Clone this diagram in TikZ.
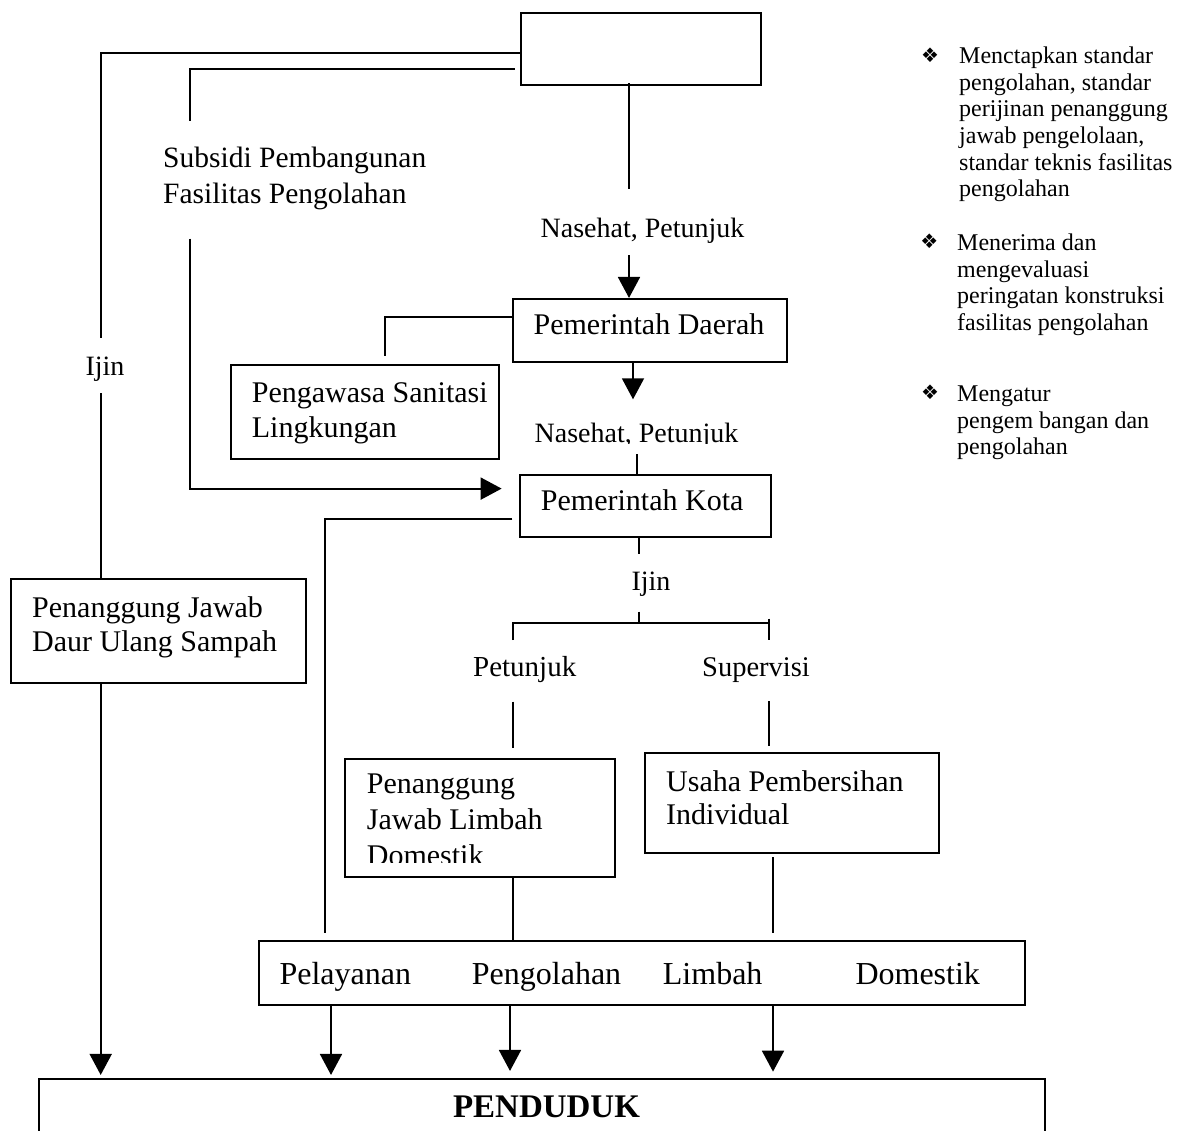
\documentclass[tikz,border=0pt]{standalone}
\usepackage{fontspec}
\setmainfont{Liberation Serif}
\newfontfamily\symfont{DejaVu Sans}
\usetikzlibrary{arrows.meta}
\begin{document}
\begin{tikzpicture}[x=1pt,y=-1pt,
  box/.style={draw, line width=2.1pt, inner sep=0pt},
  conn/.style={line width=1.8pt},
  arr/.style={conn, -{Triangle[length=21pt,width=22pt]}},
  txt/.style={inner sep=0pt, font=\fontsize{30}{34.5}\selectfont},
  txtl/.style={txt, align=left, anchor=north west},
  side/.style={inner sep=0pt, align=left, anchor=north west, font=\fontsize{24}{26.7}\selectfont},
  bul/.style={inner sep=0pt, font=\symfont\fontsize{20}{20}\selectfont},
  row/.style={inner sep=0pt, anchor=base west, font=\fontsize{32}{36}\selectfont}]
\useasboundingbox (0,0) rectangle (1180,1130);

% boxes
\node[box, minimum width=240.3pt, minimum height=72pt] (top) at (640.85,49) {};
\node[box, minimum width=274.3pt, minimum height=63.3pt] (daerah) at (649.85,330.65) {};
\node[box, minimum width=268.3pt, minimum height=94pt] (sanit) at (364.85,412) {};
\node[box, minimum width=251pt, minimum height=62pt] (kota) at (645.5,506) {};
\node[box, minimum width=295.3pt, minimum height=104.6pt] (daur) at (158.35,631) {};
\node[box, minimum width=270.6pt, minimum height=117.7pt] (limbah) at (480,817.85) {};
\node[box, minimum width=294.6pt, minimum height=100pt] (usaha) at (792,803) {};
\node[box, minimum width=766.3pt, minimum height=64pt] (pel) at (642.15,973) {};
\node[box, minimum width=1005.6pt, minimum height=81pt] (pend) at (541.8,1119.5) {};

% box texts
\node[txt, anchor=base] (daerahtxt) at (649,334.3) {Pemerintah Daerah};
\node[txtl] (sanittxt) at (251.7,382.5) {Pengawasa Sanitasi\\Lingkungan};
\node[txt, anchor=base] (kotatxt) at (642.2,510) {Pemerintah Kota};
\node[txtl] (daurtxt) at (32,596.2) {Penanggung Jawab\\Daur Ulang Sampah};
\begin{scope}
  \clip (340,700) rectangle (620,862.5);
  \node[txtl, font=\fontsize{30}{36}\selectfont] (limbahtxt) at (366.7,773.5) {Penanggung\\Jawab Limbah\\Domestik};
\end{scope}
\node[txtl, font=\fontsize{30}{33.3}\selectfont] (usahatxt) at (666,770.5) {Usaha Pembersihan\\Individual};
\node[row] (w1) at (279.3,984) {Pelayanan};
\node[row] (w2) at (471.7,984) {Pengolahan};
\node[row] (w3) at (662.7,984) {Limbah};
\node[row] (w4) at (855.3,984) {Domestik};
\node[inner sep=0pt, anchor=base, font=\bfseries\fontsize{33}{36}\selectfont] (pendtxt) at (546.5,1117) {PENDUDUK};

% free labels
\node[txt, anchor=base, font=\fontsize{28}{32}\selectfont] (nas1) at (642.5,237) {Nasehat, Petunjuk};
\begin{scope}
  \clip (500,400) rectangle (800,443.5);
  \node[txt, anchor=base, font=\fontsize{28}{32}\selectfont] (nas2) at (636.5,442) {Nasehat, Petunjuk};
\end{scope}
\node[txtl, font=\fontsize{29.5}{36.5}\selectfont] (subsidi) at (163,146.5) {Subsidi Pembangunan\\Fasilitas Pengolahan};
\node[txt, anchor=base, font=\fontsize{28}{32}\selectfont] (ijin1) at (105,375) {Ijin};
\node[txt, anchor=base, font=\fontsize{28}{32}\selectfont] (ijin2) at (651,590) {Ijin};
\node[txt, anchor=base, font=\fontsize{29}{32}\selectfont] (petunjuk) at (524.7,676.7) {Petunjuk};
\node[txt, anchor=base, font=\fontsize{28.5}{32}\selectfont] (supervisi) at (756,676.7) {Supervisi};

% right-hand list
\node[bul] (b1) at (930,55) {❖};
\node[side] (s1) at (959,46.6) {Menctapkan standar\\pengolahan, standar\\perijinan penanggung\\jawab pengelolaan,\\standar teknis fasilitas\\pengolahan};
\node[bul] (b2) at (929.3,241.7) {❖};
\node[side] (s2) at (957,233.6) {Menerima dan\\mengevaluasi\\peringatan konstruksi\\fasilitas pengolahan};
\node[bul] (b3) at (930,392.5) {❖};
\node[side] (s3) at (957,385.6) {Mengatur\\pengem bangan dan\\pengolahan};

% helper coordinates
\coordinate (c1) at (100.7,52.7);
\coordinate (i1a) at (100.7,337.5);
\coordinate (i1b) at (100.7,393);
\coordinate (c2) at (190,68.6);
\coordinate (c2e) at (190,121);
\coordinate (c2s) at (190,238.6);
\coordinate (c2c) at (190,488.6);
\coordinate (c3) at (629,189);
\coordinate (c3s) at (629,255);
\coordinate (c4) at (385,316.8);
\coordinate (c5) at (633,399.3);
\coordinate (c5s) at (636.7,454);
\coordinate (c6) at (325,518.7);
\coordinate (c6e) at (325,932.7);
\coordinate (c7) at (639,554.3);
\coordinate (c7s) at (639,611.7);
\coordinate (bj) at (639,622.7);
\coordinate (bl) at (512.7,622.7);
\coordinate (br) at (769.3,622.7);
\coordinate (blt) at (512.7,640);
\coordinate (brt) at (769.3,640);
\coordinate (brtop) at (769.3,618.7);
\coordinate (pl) at (512.7,701.7);
\coordinate (sv) at (768.7,701);
\coordinate (uc) at (772.7,932.7);

% connectors
\draw[conn] (top.west |- c1) -- (c1) -- (i1a);
\draw[conn] (i1b) -- (daur.north -| c1);
\draw[arr, shorten >=3pt] (daur.south -| c1) -- (pend.north -| c1);

\draw[conn, shorten <=5pt] (top.west |- c2) -- (c2) -- (c2e);
\draw[arr, shorten >=17.3pt] (c2s) -- (c2c) -- (kota.west |- c2c);

\draw[conn] ([yshift=3pt]top.south -| c3) -- (c3);
\draw[arr] (c3s) -- (daerah.north -| c3s);

\draw[conn] (daerah.west |- c4) -- (c4) -- ([yshift=8pt]sanit.north -| c4);

\draw[arr] (daerah.south -| c5) -- (c5);
\draw[conn] (c5s) -- (kota.north -| c5s);

\draw[conn, shorten <=6.7pt] (kota.west |- c6) -- (c6) -- (c6e);

\draw[conn] (kota.south -| c7) -- (c7);
\draw[conn] (c7s) -- (bj);
\draw[conn] (blt) -- (bl) -- (br);
\draw[conn] (brtop) -- (brt);

\draw[conn, shorten >=9.7pt] (pl) -- (limbah.north -| pl);
\draw[conn, shorten >=6pt] (sv) -- (usaha.north -| sv);
\draw[conn] (limbah.south -| pl) -- (pel.north -| pl);
\draw[conn, shorten <=3pt] (usaha.south -| uc) -- (uc);

\draw[arr, shorten >=3pt] (pel.south -| 331,0) -- (pend.north -| 331,0);
\draw[arr, shorten >=7pt] (pel.south -| 510,0) -- (pend.north -| 510,0);
\draw[arr, shorten >=6.3pt] (pel.south -| 773,0) -- (pend.north -| 773,0);
\end{tikzpicture}
\end{document}
